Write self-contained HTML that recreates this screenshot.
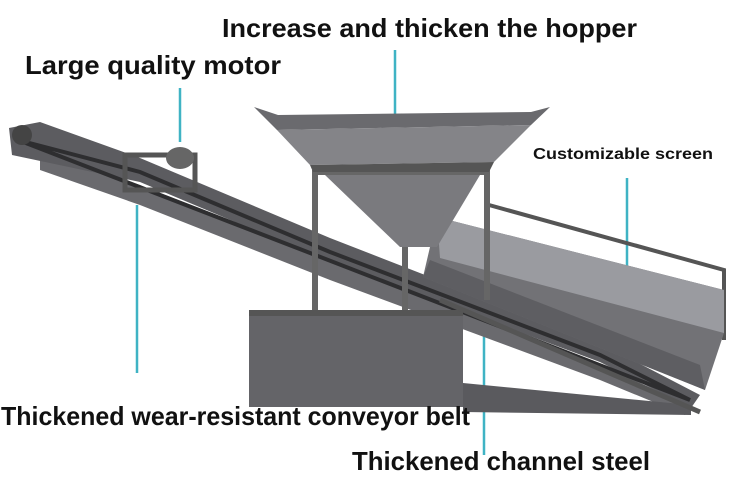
<!DOCTYPE html>
<html><head><meta charset="utf-8"><style>
html,body{margin:0;padding:0;background:#fff;width:737px;height:480px;overflow:hidden}
svg text{font-family:"Liberation Sans Narrow","Liberation Sans",sans-serif;font-weight:bold;fill:#111}
</style></head><body>
<svg width="737" height="480" viewBox="0 0 737 480" xmlns="http://www.w3.org/2000/svg">
<g stroke="#3fb3c4" stroke-width="2.5">
<line x1="395" y1="50" x2="395" y2="124"/>
<line x1="180" y1="88" x2="180" y2="142"/>
<line x1="137" y1="205" x2="137" y2="373"/>
<line x1="627" y1="178" x2="627" y2="283"/>
<line x1="484" y1="283" x2="484" y2="455"/>
</g>
<!-- conveyor lower frame -->
<polygon points="40,150 140,185 330,262 600,365 690,405 685,415 600,380 330,280 140,205 40,170" fill="#6a6a6e"/>
<!-- conveyor belt -->
<polygon points="9,128 40,122 140,158 330,238 600,343 700,395 691,408 600,362 330,262 140,182 12,155" fill="#5c5c60"/>
<polygon points="18,140 140,172 330,252 600,355 690,400" fill="none" stroke="#2e2e30" stroke-width="4"/>
<circle cx="22" cy="135" r="10" fill="#444"/>
<rect x="125" y="155" width="70" height="35" fill="none" stroke="#555" stroke-width="5"/>
<ellipse cx="180" cy="158" rx="14" ry="11" fill="#666"/>
<polyline points="489,205 724,270 724,340" fill="none" stroke="#555" stroke-width="4"/>
<polygon points="437,217 724,290 724,333 705,390 423,277" fill="#727276"/>
<polygon points="437,217 724,290 724,333 440,258" fill="#9a9ba0"/>
<polygon points="423,277 705,390 700,365 430,260" fill="#5e5e62"/>
<g stroke="#666" stroke-width="6">
<line x1="315" y1="170" x2="315" y2="310"/>
<line x1="405" y1="170" x2="405" y2="372"/>
<line x1="487" y1="170" x2="487" y2="300"/>
<line x1="313" y1="172" x2="489" y2="172"/>
</g>
<polygon points="325,175 480,175 437,247 400,247" fill="#7a7a7e"/>
<polygon points="254,107 277,130 531,125 550,107 531,112 278,115" fill="#6a6a6e"/>
<polygon points="277,130 531,125 494,162 310,165" fill="#848488"/>
<polygon points="310,165 494,162 489,172 313,172" fill="#555"/>
<rect x="249" y="310" width="214" height="97" fill="#646468"/>
<rect x="249" y="310" width="214" height="6" fill="#555"/>
<polygon points="463,383 691,405 691,415 463,412" fill="#5a5a5e"/>
<line x1="440" y1="300" x2="700" y2="412" stroke="#555" stroke-width="5"/>
<text x="222" y="37" font-size="26" textLength="415" lengthAdjust="spacingAndGlyphs">Increase and thicken the hopper</text>
<text x="25" y="74" font-size="26" textLength="256" lengthAdjust="spacingAndGlyphs">Large quality motor</text>
<text x="533" y="159" font-size="16" textLength="180" lengthAdjust="spacingAndGlyphs">Customizable screen</text>
<text x="1" y="425" font-size="26" textLength="469" lengthAdjust="spacingAndGlyphs">Thickened wear-resistant conveyor belt</text>
<text x="352" y="470" font-size="26" textLength="298" lengthAdjust="spacingAndGlyphs">Thickened channel steel</text>
</svg>
</body></html>
